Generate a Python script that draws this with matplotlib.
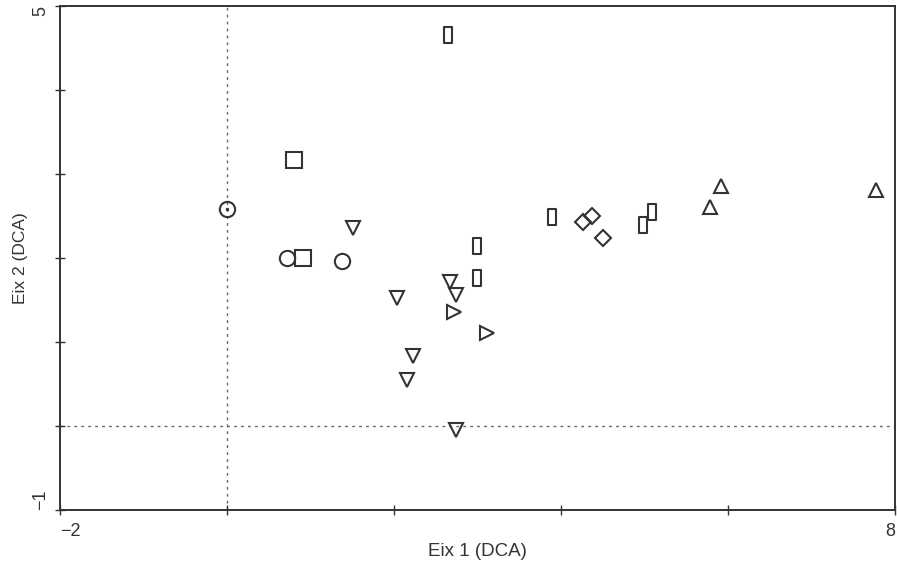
import matplotlib
matplotlib.use("Agg")
import matplotlib.pyplot as plt
from matplotlib.path import Path

plt.rcParams['font.family'] = ['Liberation Sans', 'DejaVu Sans']

# Data
circle_x = [0.72, 1.38]
circle_y = [2.00, 1.96]
circdot_x = [0.00]
circdot_y = [2.58]
square_x = [0.80, 0.91]
square_y = [3.17, 2.00]
rect_x = [2.65, 2.99, 2.99, 3.89, 4.98, 5.09]
rect_y = [4.65, 2.14, 1.76, 2.49, 2.39, 2.55]
down_x = [1.51, 2.67, 2.74, 2.04, 2.23, 2.16, 2.74]
down_y = [2.36, 1.71, 1.56, 1.52, 0.83, 0.55, -0.05]
right_x = [2.72, 3.11]
right_y = [1.36, 1.11]
diamond_x = [4.26, 4.37, 4.50]
diamond_y = [2.43, 2.50, 2.24]
up_x = [5.78, 5.92, 7.77]
up_y = [2.61, 2.86, 2.81]

xticks = [-2, 0, 2, 4, 6, 8]
xticklabels = ['\u22122', '', '', '', '', '8']
yticks = [-1, 0, 1, 2, 3, 4, 5]
yticklabels = ['\u22121', '', '', '', '', '', '5']

fig = plt.figure(figsize=(8.97, 5.66), dpi=100)
ax = fig.add_axes([0.0669, 0.0989, 0.9309, 0.8905])

ec = '#333333'
lw = 1.5
tall_rect = Path([(-0.5, -1), (0.5, -1), (0.5, 1), (-0.5, 1), (-0.5, -1)],
                 [Path.MOVETO, Path.LINETO, Path.LINETO, Path.LINETO, Path.CLOSEPOLY])

ax.axvline(0, color='#666666', lw=1, ls=(0, (2, 3)), zorder=1)
ax.axhline(0, color='#666666', lw=1, ls=(0, (2, 3)), zorder=1)

common = dict(ls='none', mfc='none', mec=ec, mew=lw, zorder=3)
ax.plot(circle_x, circle_y, marker='o', ms=11, **common)
ax.plot(circdot_x, circdot_y, marker='o', ms=11, **common)
ax.plot(circdot_x, circdot_y, marker='.', ms=3, ls='none', color=ec, zorder=3)
ax.plot(square_x, square_y, marker='s', ms=11, **common)
ax.plot(rect_x, rect_y, marker=tall_rect, ms=11, **common)
ax.plot(down_x, down_y, marker='v', ms=10, **common)
ax.plot(right_x, right_y, marker='>', ms=10, **common)
ax.plot(diamond_x, diamond_y, marker='D', ms=8, **common)
ax.plot(up_x, up_y, marker='^', ms=10, **common)

ax.set_xlim(-2, 8)
ax.set_ylim(-1, 5)
ax.set_xticks(xticks)
ax.set_xticklabels(xticklabels, fontsize=13)
ax.set_yticks(yticks)
ax.set_yticklabels(yticklabels, fontsize=13, rotation=90)
ax.tick_params(direction='inout', length=7, width=1, color='#333333', labelcolor='#333333')
ax.tick_params(axis='x', pad=6)
ax.tick_params(axis='y', pad=4)

xl = ax.get_xticklabels()
xl[0].set_ha('left')
xl[-1].set_ha('right')
yl = ax.get_yticklabels()
yl[0].set_va('bottom')
yl[-1].set_va('top')

for s in ax.spines.values():
    s.set_linewidth(1.4)
    s.set_color('#333333')

ax.set_xlabel('Eix 1 (DCA)', fontsize=13.5, color='#333333', labelpad=2)
ax.set_ylabel('Eix 2 (DCA)', fontsize=12.5, color='#333333', labelpad=3)

fig.savefig('out.png', dpi=100)
